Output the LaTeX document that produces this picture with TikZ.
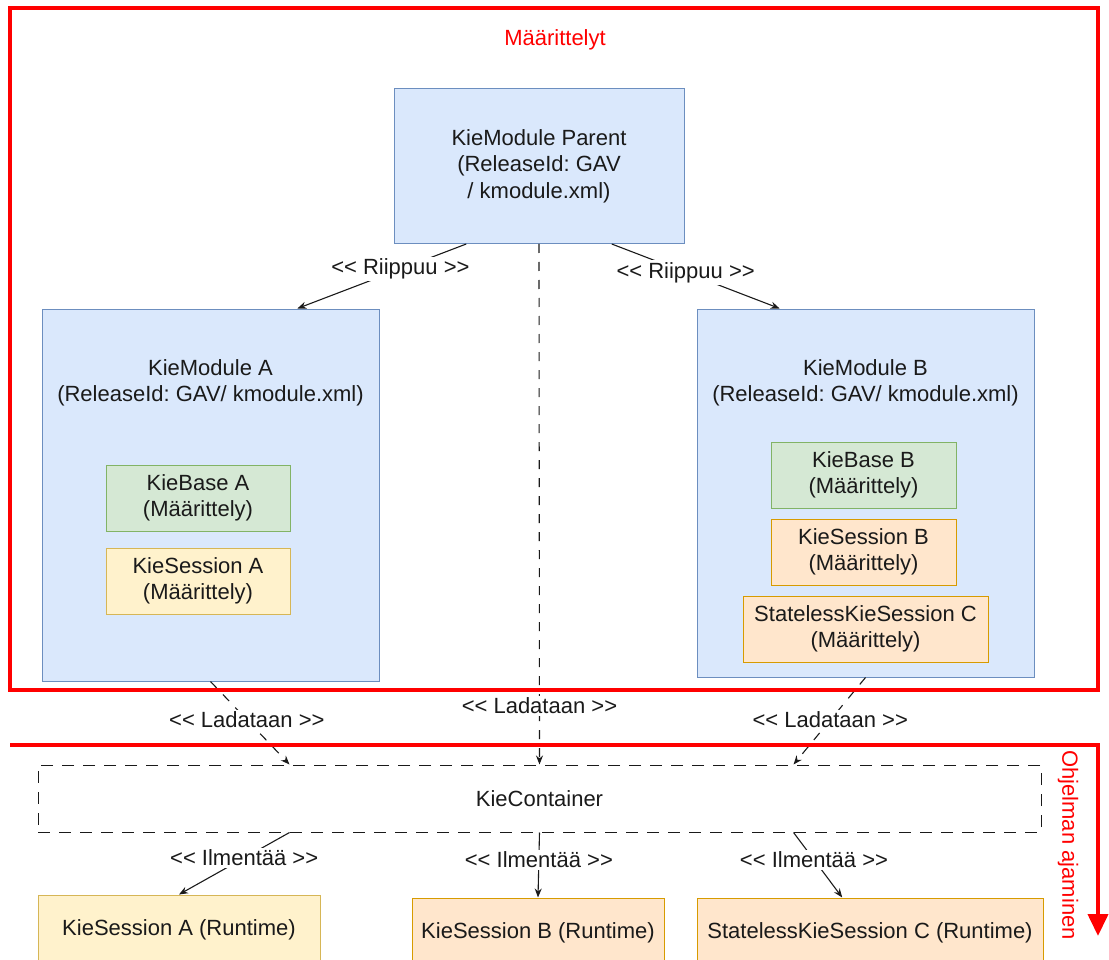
\documentclass[tikz,border=0pt]{standalone}
\usepackage{fontspec}
\setmainfont{Liberation Sans}
\usetikzlibrary{arrows.meta,calc}
\definecolor{bluef}{HTML}{DAE8FC}
\definecolor{blued}{HTML}{6C8EBF}
\definecolor{greenf}{HTML}{D5E8D4}
\definecolor{greend}{HTML}{82B366}
\definecolor{yellowf}{HTML}{FFF2CC}
\definecolor{yellowd}{HTML}{D6B656}
\definecolor{orangef}{HTML}{FFE6CC}
\definecolor{oranged}{HTML}{D79B00}
\definecolor{txt}{HTML}{1A1A1A}
\frenchspacing
\newcommand\dfont{\fontsize{22}{26.5}\selectfont}
\newcommand\dlt{<\kern0pt<}
\newcommand\dgt{>\kern0pt>}
\tikzset{
  box/.style={draw, line width=1pt, inner sep=0pt, align=center, text=txt},
  bluebox/.style={box, fill=bluef, draw=blued},
  greenbox/.style={box, fill=greenf, draw=greend},
  yellowbox/.style={box, fill=yellowf, draw=yellowd},
  orangebox/.style={box, fill=orangef, draw=oranged},
  plain/.style={inner sep=0pt, align=center, text=txt},
  conn/.style={line width=1.1pt, draw=txt, -{Stealth[length=9pt,width=7pt]}},
  dconn/.style={conn, dash pattern=on 9pt off 9pt},
  lbl/.style={fill=white, inner sep=2pt, text=txt},
  redframe/.style={draw=red, line width=4pt},
}
\begin{document}
\begin{tikzpicture}[x=1pt,y=-1pt,font=\dfont]
\useasboundingbox (0,0) rectangle (1109,960);

% boxes
\node[bluebox, minimum width=290pt, minimum height=155pt] (parent) at (539,166) {KieModule Parent\\(ReleaseId: GAV\\/ kmodule.xml)};

\node[bluebox, minimum width=337pt, minimum height=372pt] (modA) at (210.5,495) {};
\node[plain] (modAtxt) at (210.5,383) {KieModule A\\(ReleaseId: GAV/ kmodule.xml)};
\node[greenbox, minimum width=184pt, minimum height=66pt] (baseA) at (198,498) {KieBase A\\(Määrittely)};
\node[yellowbox, minimum width=184pt, minimum height=66pt] (sessA) at (198,581) {KieSession A\\(Määrittely)};

\node[bluebox, minimum width=337pt, minimum height=368pt] (modB) at (865.5,493) {};
\node[plain] (modBtxt) at (865.5,383) {KieModule B\\(ReleaseId: GAV/ kmodule.xml)};
\node[greenbox, minimum width=185pt, minimum height=66pt] (baseB) at (863.5,475) {KieBase B\\(Määrittely)};
\node[orangebox, minimum width=185pt, minimum height=66pt] (sessB) at (863.5,552) {KieSession B\\(Määrittely)};
\node[orangebox, minimum width=245pt, minimum height=66pt] (sessC) at (865.5,629) {StatelessKieSession C\\(Määrittely)};

\node[box, draw=txt, fill=none, dash pattern=on 12pt off 9pt, minimum width=1003pt, minimum height=67pt] (cont) at (539.5,798.5) {KieContainer};

\node[yellowbox, minimum width=282pt, minimum height=70pt] (runA) at (179,930) {KieSession A (Runtime)};
\node[orangebox, minimum width=252pt, minimum height=70pt] (runB) at (538,933) {KieSession B (Runtime)};
\node[orangebox, minimum width=346pt, minimum height=70pt] (runC) at (870,933) {StatelessKieSession C (Runtime)};

% connectors
\draw[conn] ($(parent.south west)!0.25!(parent.south east)$) -- node[lbl, pos=0.39] (l1) {\dlt{} Riippuu \dgt} ($(modA.north west)!0.757!(modA.north east)$);
\draw[conn] ($(parent.south west)!0.75!(parent.south east)$) -- node[lbl, pos=0.44] (l2) {\dlt{} Riippuu \dgt} ($(modB.north west)!0.246!(modB.north east)$);

\draw[dconn] (parent.south) -- node[lbl, pos=0.887] (l3) {\dlt{} Ladataan \dgt} (cont.north);
\draw[dconn] (modA.south) -- node[lbl, pos=0.46] (l4) {\dlt{} Ladataan \dgt} ($(cont.north west)!0.251!(cont.north east)$);
\draw[dconn] (modB.south) -- node[lbl, pos=0.49] (l5) {\dlt{} Ladataan \dgt} ($(cont.north west)!0.753!(cont.north east)$);

\draw[conn] ($(cont.south west)!0.251!(cont.south east)$) -- node[lbl, pos=0.41] (l6) {\dlt{} Ilmentää \dgt} (runA.north);
\draw[conn] (cont.south) -- node[lbl, pos=0.42] (l7) {\dlt{} Ilmentää \dgt} (runB.north);
\draw[conn] ($(cont.south west)!0.753!(cont.south east)$) -- node[lbl, pos=0.42] (l8) {\dlt{} Ilmentää \dgt} ($(runC.north west)!0.42!(runC.north east)$);

% red frames
\draw[redframe] (10,8) rectangle (1098,690);
\node[text=red, inner sep=0pt] (defs) at (555,40) {Määrittelyt};
\coordinate (rs) at (10,745);
\coordinate (rc) at (1098,745);
\coordinate (re) at (1098,936);
\draw[redframe, -{Triangle[length=22pt,width=20pt]}] (rs) -- (rc) -- (re);
\node[text=red, inner sep=0pt, rotate=-90] (run) at (1068,845) {Ohjelman ajaminen};
\end{tikzpicture}
\end{document}
